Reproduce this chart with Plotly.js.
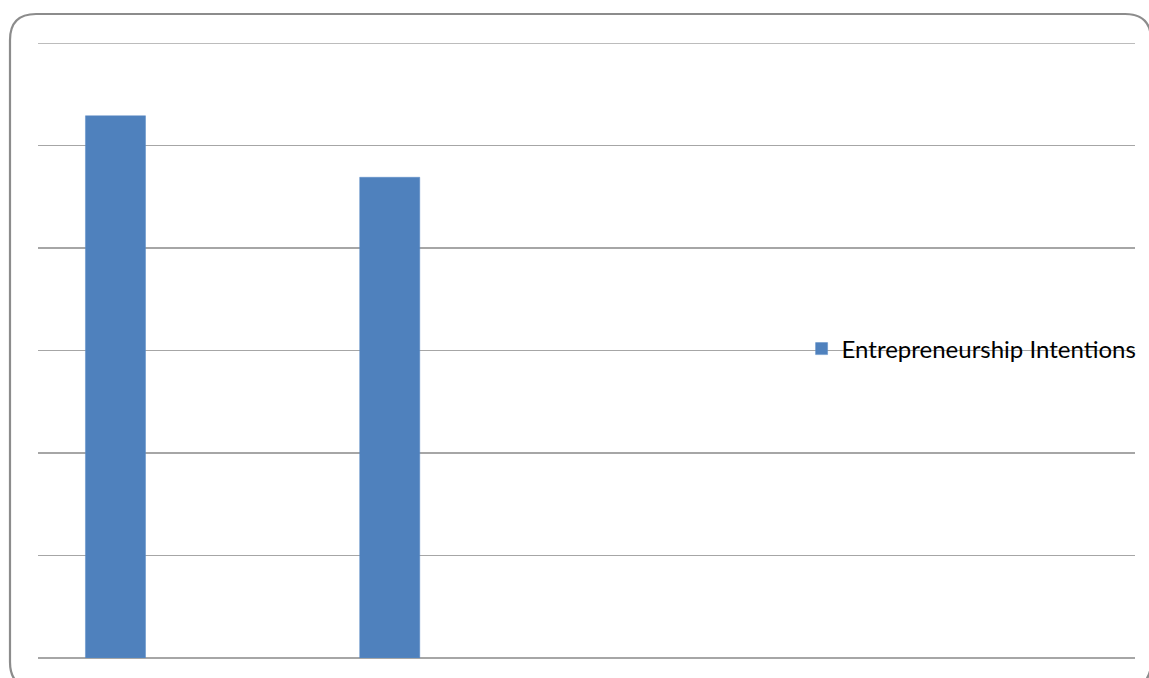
<!DOCTYPE html>
<html>
<head>
<meta charset="utf-8">
<script src="https://cdn.plot.ly/plotly-3.0.1.min.js"></script>
<style>
html,body{margin:0;padding:0;background:#fff;}
#chart{width:1149px;height:678px;}
</style>
</head>
<body>
<div id="chart"></div>
<script>
var categories = ["Group 1", "Group 2", "Group 3", "Group 4"];
var seriesName = "Entrepreneurship Intentions";
var intentions = [5.29, 4.69, null, null];
var yTicks = [0, 1, 2, 3, 4, 5, 6];
var yMax = 6;

var W = 1149, H = 678;
var mL = 38, mR = 14, mT = 43, mB = 20;
var pw = W - mL - mR, ph = H - mT - mB;
function px(x){ return (x - mL) / pw; }
function py(y){ return (H - mB - y) / ph; }

// rounded border (Excel chart area)
var bx0 = 10, bx1 = 1151, by0 = 14, by1 = 688, r = 26;
var path = 'M ' + px(bx0 + r) + ' ' + py(by0) +
  ' L ' + px(bx1 - r) + ' ' + py(by0) +
  ' Q ' + px(bx1) + ' ' + py(by0) + ' ' + px(bx1) + ' ' + py(by0 + r) +
  ' L ' + px(bx1) + ' ' + py(by1 - r) +
  ' Q ' + px(bx1) + ' ' + py(by1) + ' ' + px(bx1 - r) + ' ' + py(by1) +
  ' L ' + px(bx0 + r) + ' ' + py(by1) +
  ' Q ' + px(bx0) + ' ' + py(by1) + ' ' + px(bx0) + ' ' + py(by1 - r) +
  ' L ' + px(bx0) + ' ' + py(by0 + r) +
  ' Q ' + px(bx0) + ' ' + py(by0) + ' ' + px(bx0 + r) + ' ' + py(by0) + ' Z';

var trace = {
  type: 'bar',
  x: categories,
  y: intentions,
  name: seriesName,
  offset: -0.327,
  width: 0.219,
  marker: {color: '#4F81BD', line: {color: '#5b8cc6', width: 0.5}},
  showlegend: true
};

var layout = {
  width: W, height: H,
  margin: {l: mL, r: mR, t: mT, b: mB, pad: 0, autoexpand: false},
  paper_bgcolor: '#ffffff',
  plot_bgcolor: 'rgba(0,0,0,0)',
  font: {family: 'Lato, "Open Sans", sans-serif', size: 24, color: '#000000'},
  showlegend: true,
  legend: {
    x: 1.006, xanchor: 'right', y: py(349), yanchor: 'middle',
    bgcolor: 'rgba(0,0,0,0)', borderwidth: 0,
    font: {family: 'Lato, "Open Sans", sans-serif', size: 24, color: '#000'},
    itemwidth: 30
  },
  xaxis: {
    type: 'category',
    range: [-0.5, 3.5],
    showticklabels: false,
    showgrid: false,
    zeroline: false,
    showline: false,
    ticks: '',
    fixedrange: true
  },
  yaxis: {
    range: [0, yMax],
    tickvals: yTicks,
    showticklabels: false,
    showgrid: true,
    gridcolor: '#a6a6a6',
    gridwidth: 1.3,
    zeroline: true,
    zerolinecolor: '#a6a6a6',
    zerolinewidth: 1.5,
    showline: false,
    ticks: '',
    fixedrange: true
  },
  bargap: 0,
  shapes: [{
    type: 'line', xref: 'paper', yref: 'y', x0: 0, x1: 1, y0: yMax, y1: yMax,
    line: {color: '#a6a6a6', width: 1.3}, layer: 'below'
  }, {
    type: 'path', xref: 'paper', yref: 'paper', path: path,
    line: {color: '#8c8c8c', width: 2.2}, fillcolor: 'rgba(0,0,0,0)', layer: 'above'
  }]
};

Plotly.newPlot('chart', [trace], layout, {staticPlot: true, displayModeBar: false});
</script>
</body>
</html>
